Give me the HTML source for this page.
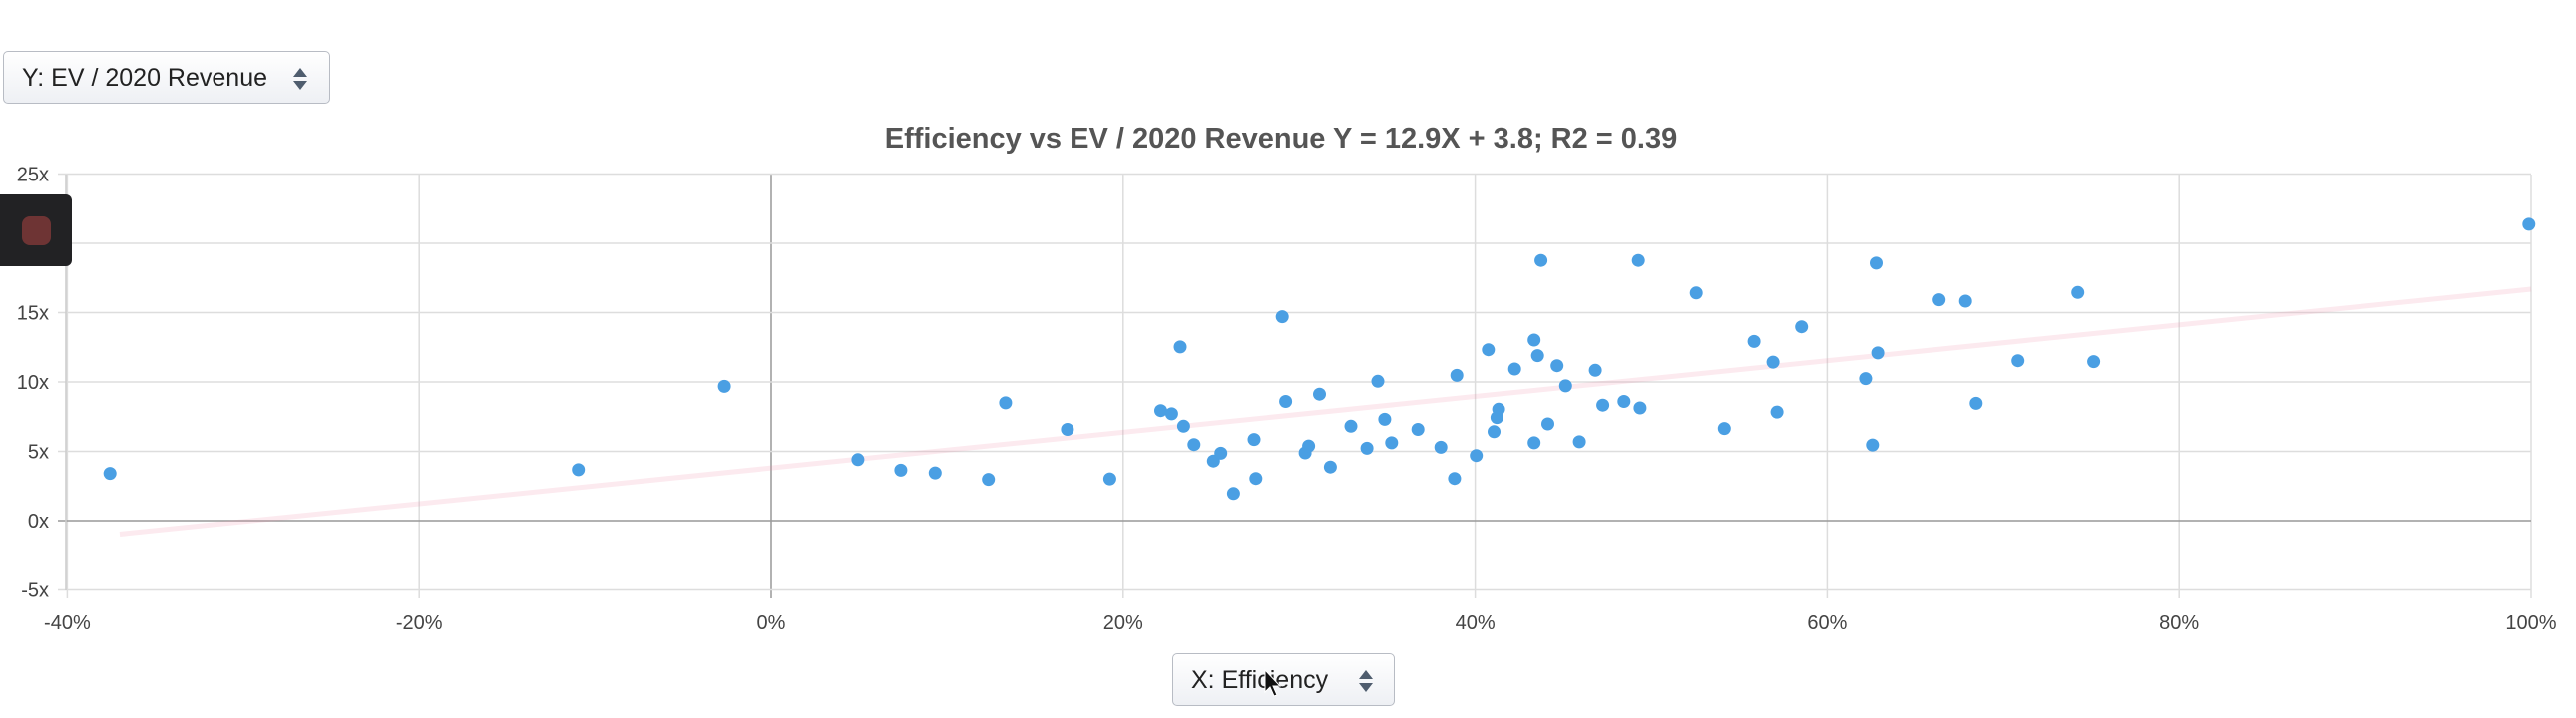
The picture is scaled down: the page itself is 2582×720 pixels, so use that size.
<!DOCTYPE html>
<html><head><meta charset="utf-8"><style>
html,body{margin:0;padding:0;background:#fff;width:2582px;height:720px;overflow:hidden;font-family:"Liberation Sans",sans-serif}
.dd{position:absolute;box-sizing:border-box;border:1.5px solid #b8bcc4;border-radius:5px;background:linear-gradient(#fff,#eef0f4);color:#222;font-size:25px}
</style></head><body>
<div class="dd" style="left:3px;top:51px;width:328px;height:53px;">
<span style="position:absolute;left:18px;top:12px;">Y: EV / 2020 Revenue</span>
<svg style="position:absolute;left:287px;top:14px" width="20" height="26"><path d="M10 2 L17 11 L3 11Z M10 24 L17 15 L3 15Z" fill="#4f5d6e"/></svg>
</div>
<div class="dd" style="left:1175px;top:655px;width:223px;height:53px;">
<span style="position:absolute;left:18px;top:12px;">X: Efficiency</span>
<svg style="position:absolute;left:183px;top:14px" width="20" height="26"><path d="M10 2 L17 11 L3 11Z M10 24 L17 15 L3 15Z" fill="#4f5d6e"/></svg>
</div>
<svg id="c" style="position:absolute;left:0;top:0" width="2582" height="720"></svg>
<div style="position:absolute;left:0;top:195px;width:72px;height:72px;background:#222224;border-radius:0 6px 6px 0"></div>
<div style="position:absolute;left:22px;top:217px;width:29px;height:29px;background:#6e3434;border-radius:8px"></div>
<script>
var s='';
var X0=66,X1=2537,Yt=175,Yb=592;
function xp(p){return 773+p*17.64}
function yp(v){return 522-v*13.9}
s+='<text x="1284" y="148" text-anchor="middle" font-size="29" font-weight="bold" fill="#555" font-family="Liberation Sans">Efficiency vs EV / 2020 Revenue Y = 12.9X + 3.8; R2 = 0.39</text>';
for(var p=-40;p<=100;p+=20){var x=xp(p);var col=(p==0)?'#999':'#ddd';
s+='<line x1="'+x+'" y1="'+Yt+'" x2="'+x+'" y2="'+(Yb+8)+'" stroke="'+col+'" stroke-width="1.5"/>';
s+='<text x="'+x+'" y="631" text-anchor="middle" font-size="20" fill="#444" font-family="Liberation Sans">'+p+'%</text>';}
for(var v=-5;v<=25;v+=5){var y=yp(v);var col=(v==0)?'#999':'#ddd';
s+='<line x1="'+(X0-8)+'" y1="'+y+'" x2="'+X1+'" y2="'+y+'" stroke="'+col+'" stroke-width="1.5"/>';
s+='<text x="49" y="'+(y+7)+'" text-anchor="end" font-size="20" fill="#444" font-family="Liberation Sans">'+v+'x</text>';}
s+='<line x1="'+X0+'" y1="'+Yt+'" x2="'+X0+'" y2="'+Yb+'" stroke="#ccc" stroke-width="1.5"/>';
s+='<line x1="120" y1="535.5" x2="2537" y2="290" stroke="rgba(240,140,165,0.18)" stroke-width="5"/>';
var pts=[];
[[192,1034],[1010,1026],[1265,844],[1498,1004]].forEach(function(a){pts.push([a[0]*0.574,a[1]*0.459])});
[[5,1027],[65,1033],[158,1047],[188,880],[296,938],[370,1046],[459,897],[478,904],[493,758],[499,931],[517,971],[551,1007],[564,990],[586,1078],[622,960],[625,1045],[671,692],[677,877],[711,989],[717,974],[736,861],[755,1020],[791,931],[819,979],[838,833],[850,916],[862,967],[908,938],[948,977],[972,1045],[976,820],[1010,995],[1031,764],[1041,943],[1046,912],[1049,894],[1077,806],[1111,743],[1111,967],[1117,777],[1123,569],[1135,926],[1151,799],[1166,843],[1190,965],[1218,809],[1231,885],[1268,877],[1293,569],[1296,891],[1394,640],[1443,936],[1495,746],[1528,791],[1535,900]].forEach(function(a){pts.push([900+a[0]*0.574,a[1]*0.459])});
[[105,714],[226,827],[239,972],[246,575],[249,771],[365,655],[415,658],[435,881],[514,788],[627,639],[657,790],[1479,490]].forEach(function(a){pts.push([1750+a[0]*0.5306,a[1]*0.459])});
pts.forEach(function(p){s+='<circle cx="'+p[0].toFixed(1)+'" cy="'+p[1].toFixed(1)+'" r="6.5" fill="#4a9fe3"/>'});
s+='<path d="M1268 672 L1268 694 L1273 689 L1277 698 L1280 697 L1276 688 L1283 688Z" fill="#111" stroke="#fff" stroke-width="1"/>';
document.getElementById('c').innerHTML=s;
</script>
</body></html>
